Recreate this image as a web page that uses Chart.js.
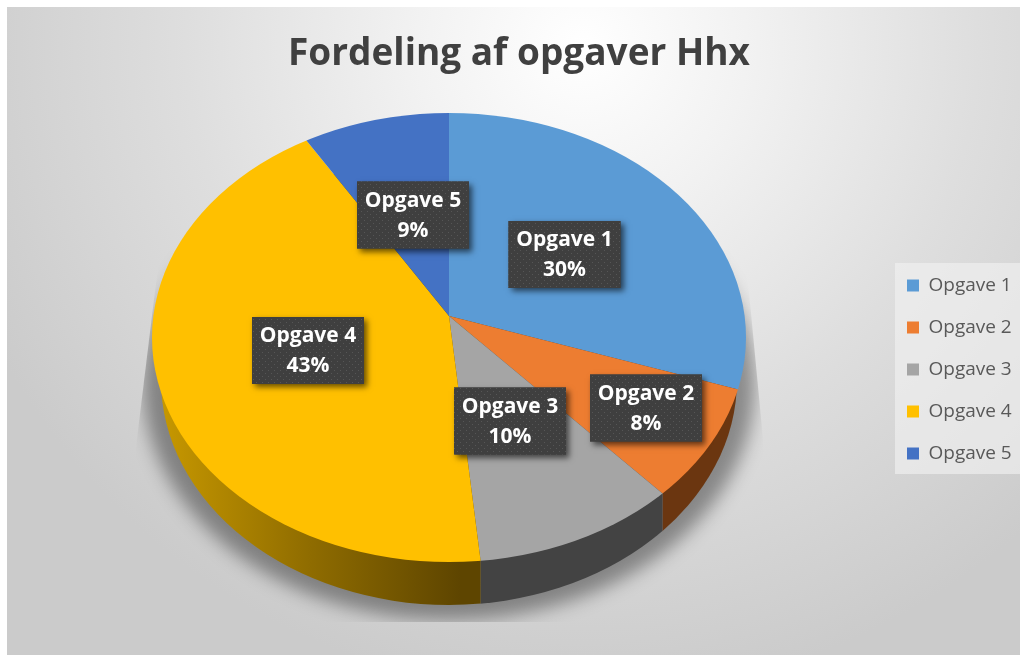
<!DOCTYPE html>
<html>
<head>
<meta charset="utf-8">
<title>Fordeling af opgaver Hhx</title>
<script src="https://cdn.jsdelivr.net/npm/chart.js@4"></script>
<style>
    html, body { margin: 0; padding: 0; background: #fff; }
    #wrap { position: relative; width: 1020px; height: 655px; overflow: hidden; }
    #bg {
        position: absolute; left: 7px; top: 7px; right: 0; bottom: 0;
        background: radial-gradient(ellipse 660px 650px at 575px 40px, #ffffff 0%, #f2f2f2 25%, #dedede 60%, #cbcbcb 100%);
    }
    canvas { position: absolute; left: 0; top: 0; }
</style>
</head>
<body>
<div id="wrap">
    <div id="bg"></div>
    <canvas id="pie" width="1020" height="655"></canvas>
</div>
<script>
const titleText = 'Fordeling af opgaver Hhx';
const categories = ['Opgave 1', 'Opgave 2', 'Opgave 3', 'Opgave 4', 'Opgave 5'];
// unrounded shares as read from the slice edges, the labels show them rounded
const shares = [30, 8, 10.4, 42.6, 9];
const topColors = ['#5b9bd5', '#ed7d31', '#a5a5a5', '#ffc000', '#4472c4'];
const wallColors = ['#2f5f8c', '#6b3610', '#434343', null, '#2a4a85'];

// where the 3D look sits on the page
const topFace = { x: 449, y: 337.5, rx: 297, ry: 224.5, apexY: 316 };
const wallFace = { x: 449, y: 380, rx: 288, ry: 225 };
const slantX = 297;
const slantY = 232;
const oversize = 1.3; // sectors are drawn too big, then clipped to the ellipse

const labelCenters = [[564.5, 254.5], [646, 408], [510, 421], [308, 350.5], [413, 215]];
const labelSize = { w: 112, h: 67 };

function drawTopFace(ctx, arcs) {
    const r = arcs[0].outerRadius;
    ctx.save();
    ctx.beginPath();
    ctx.ellipse(topFace.x, topFace.y, topFace.rx, topFace.ry, 0, 0, Math.PI * 2);
    ctx.clip();
    ctx.translate(topFace.x, topFace.apexY);
    ctx.scale(slantX * oversize / r, slantY * oversize / r);
    ctx.translate(-arcs[0].x, -arcs[0].y);
    arcs.forEach(arc => arc.draw(ctx));
    ctx.restore();
}

// x where a slice edge meets the rim of the top face
function rimX(angle) {
    const dx = slantX * Math.cos(angle);
    const dy = slantY * Math.sin(angle);
    const oy = topFace.apexY - topFace.y;
    const a = dx * dx / (topFace.rx * topFace.rx) + dy * dy / (topFace.ry * topFace.ry);
    const b = 2 * oy * dy / (topFace.ry * topFace.ry);
    const c = oy * oy / (topFace.ry * topFace.ry) - 1;
    const t = (-b + Math.sqrt(b * b - 4 * a * c)) / (2 * a);
    return topFace.x + t * dx;
}

function drawWall(ctx, arcs) {
    const yellowWall = ctx.createLinearGradient(160, 0, 460, 0);
    yellowWall.addColorStop(0, '#c79800');
    yellowWall.addColorStop(0.5, '#8f6c00');
    yellowWall.addColorStop(1, '#5e4500');

    const minX = wallFace.x - wallFace.rx;
    const maxX = wallFace.x + wallFace.rx;
    arcs.forEach((arc, i) => {
        const startLow = Math.sin(arc.startAngle) > 0;
        const endLow = Math.sin(arc.endAngle) > 0;
        if (!startLow && !endLow) return;
        const right = startLow ? rimX(arc.startAngle) : maxX;
        const left = endLow ? rimX(arc.endAngle) : minX;
        ctx.save();
        ctx.beginPath();
        ctx.rect(left, 0, right - left, 655);
        ctx.clip();
        ctx.fillStyle = wallColors[i] || yellowWall;
        ctx.beginPath();
        ctx.ellipse(wallFace.x, wallFace.y, wallFace.rx, wallFace.ry, 0, 0, Math.PI * 2);
        ctx.fill();
        ctx.restore();
    });
}

function drawFloorShadow(ctx) {
    ctx.save();
    ctx.beginPath();
    ctx.moveTo(160, 250);
    ctx.lineTo(135, 455);
    ctx.lineTo(135, 622);
    ctx.lineTo(765, 622);
    ctx.lineTo(765, 460);
    ctx.lineTo(745, 250);
    ctx.closePath();
    ctx.clip();
    ctx.filter = 'blur(9px)';
    ctx.fillStyle = 'rgba(0,0,0,0.38)';
    ctx.beginPath();
    ctx.ellipse(449, 384, 306, 236, 0, 0, Math.PI * 2);
    ctx.fill();
    ctx.restore();
}

function dotPattern(ctx) {
    const tile = document.createElement('canvas');
    tile.width = 6;
    tile.height = 6;
    const t = tile.getContext('2d');
    t.fillStyle = '#3f3f3f';
    t.fillRect(0, 0, 6, 6);
    t.fillStyle = '#565656';
    t.fillRect(1, 1, 1, 1);
    t.fillRect(4, 4, 1, 1);
    return ctx.createPattern(tile, 'repeat');
}

const pie3d = {
    id: 'pie3d',
    afterLayout(chart) {
        // legend and title do not sit where the layout would put them
        const legend = chart.legend;
        legend.left = 884;
        legend.right = 1020;
        legend.top = 253;
        legend.bottom = 655;
        chart.titleBlock.left = 18;
        chart.titleBlock.right = 1020;
    },
    beforeDraw(chart) {
        const ctx = chart.ctx;
        ctx.save();
        ctx.fillStyle = 'rgba(242,242,242,0.62)';
        ctx.fillRect(895, 263, 125, 211);
        ctx.restore();
    },
    beforeDatasetDraw(chart) {
        const ctx = chart.ctx;
        const arcs = chart.getDatasetMeta(0).data;
        drawFloorShadow(ctx);
        drawWall(ctx, arcs);
        drawTopFace(ctx, arcs);
        return false;
    },
    afterDatasetsDraw(chart) {
        const ctx = chart.ctx;
        const pattern = dotPattern(ctx);
        categories.forEach((name, i) => {
            const [cx, cy] = labelCenters[i];
            const x = cx - labelSize.w / 2;
            const y = cy - labelSize.h / 2;
            ctx.save();
            ctx.shadowColor = 'rgba(0,0,0,0.6)';
            ctx.shadowBlur = 6;
            ctx.shadowOffsetX = 3;
            ctx.shadowOffsetY = 3;
            ctx.fillStyle = '#3f3f3f';
            ctx.fillRect(x, y, labelSize.w, labelSize.h);
            ctx.restore();

            ctx.save();
            ctx.fillStyle = pattern;
            ctx.fillRect(x, y, labelSize.w, labelSize.h);
            ctx.fillStyle = '#ffffff';
            ctx.font = 'bold 21px "Open Sans"';
            ctx.textAlign = 'center';
            ctx.textBaseline = 'middle';
            ctx.fillText(name, cx, cy - 14);
            ctx.fillText(Math.round(shares[i]) + '%', cx, cy + 16);
            ctx.restore();
        });
    }
};

new Chart(document.getElementById('pie').getContext('2d'), {
    type: 'pie',
    data: {
        labels: categories,
        datasets: [{
            data: shares,
            backgroundColor: topColors,
            borderWidth: 0
        }]
    },
    options: {
        responsive: false,
        animation: false,
        plugins: {
            title: {
                display: true,
                text: titleText,
                color: '#404040',
                font: { family: 'Open Sans', size: 37, weight: 'bold' },
                padding: { top: 32, bottom: 10 }
            },
            legend: {
                position: 'right',
                align: 'start',
                labels: {
                    boxWidth: 12,
                    boxHeight: 12,
                    padding: 23,
                    color: '#595959',
                    font: { family: 'Open Sans', size: 19 }
                }
            },
            tooltip: { enabled: false }
        }
    },
    plugins: [pie3d]
});
</script>
</body>
</html>
